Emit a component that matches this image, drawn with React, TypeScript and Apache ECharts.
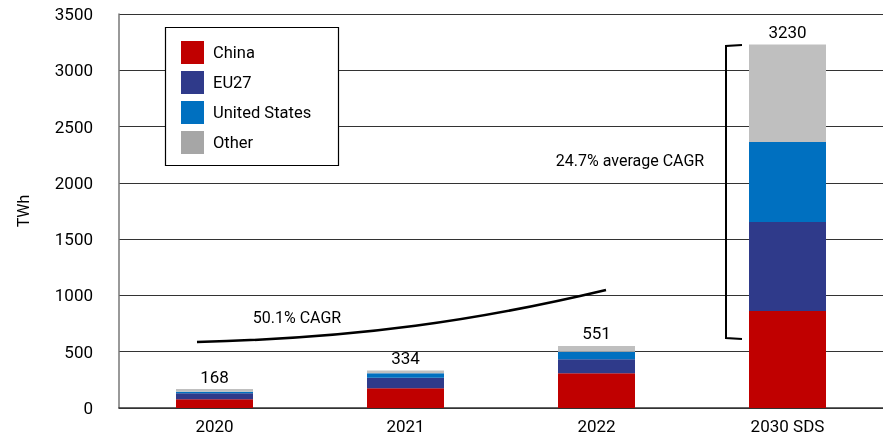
import React, { useEffect, useRef } from "react";
import * as echarts from "echarts";

const categories = ["2020", "2021", "2022", "2030 SDS"];
const china = [77, 175, 308, 862];
const eu27 = [53, 94, 125, 790];
const unitedStates = [15, 39, 67, 711];
const other = [23, 26, 51, 867];
const totals = [168, 334, 551, 3230];
const yTicks = { min: 0, max: 3500, interval: 500 };

const FONT = "Roboto";

export default function App() {
  const ref = useRef<HTMLDivElement>(null);
  useEffect(() => {
    document.body.style.margin = "0";
    const chart = echarts.init(ref.current!, null, { renderer: "svg" });
    const mk = (name: string, data: number[], color: string, extra: any = {}) => ({
      name,
      type: "bar",
      stack: "total",
      data,
      barWidth: 77,
      itemStyle: { color },
      emphasis: { disabled: true },
      ...extra,
    });
    chart.setOption({
      animation: false,
      textStyle: { fontFamily: FONT },
      grid: { left: 119, right: -5, top: 14, bottom: 29 },
      legend: {
        orient: "vertical",
        left: 181,
        top: 41,
        padding: 0,
        itemWidth: 23,
        itemHeight: 23,
        itemGap: 7,
        z: 20,
        icon: "rect",
        textStyle: { fontSize: 16.5, color: "#000", fontFamily: FONT, padding: [0, 0, 0, 4] },
        data: [
          { name: "China", itemStyle: { color: "#C00000" } },
          { name: "EU27", itemStyle: { color: "#2F3A8A" } },
          { name: "United States", itemStyle: { color: "#0070C0" } },
          { name: "Other", itemStyle: { color: "#A6A6A6" } },
        ],
      },
      xAxis: {
        type: "category",
        data: categories,
        axisLine: { lineStyle: { color: "#333", width: 1.5 } },
        axisTick: { show: false },
        axisLabel: { fontSize: 17, color: "#000", margin: 9, fontFamily: FONT },
      },
      yAxis: {
        type: "value",
        min: yTicks.min,
        max: yTicks.max,
        interval: yTicks.interval,
        name: "TWh",
        nameLocation: "middle",
        nameRotate: 90,
        nameGap: 88,
        nameTextStyle: { fontSize: 16, color: "#000", fontFamily: FONT },
        axisLine: { show: true, lineStyle: { color: "#777", width: 1.5 } },
        axisTick: { show: false },
        axisLabel: {
          fontSize: 17,
          color: "#000",
          margin: 26,
          fontFamily: FONT,
          formatter: (v: number) => String(v),
        },
        splitLine: { lineStyle: { color: "#333", width: 1 } },
      },
      graphic: [
        {
          type: "rect",
          z: 10,
          shape: { x: 165.5, y: 27.5, width: 173, height: 138 },
          style: { fill: "#fff", stroke: "#000", lineWidth: 1.2 },
        },
        {
          type: "bezierCurve",
          z: 10,
          shape: { x1: 197, y1: 342, cpx1: 360, cpy1: 338, cpx2: 480, cpy2: 320, x2: 606, y2: 290 },
          style: { stroke: "#000", lineWidth: 2.5, fill: null },
        },
        {
          type: "text",
          z: 10,
          x: 297,
          y: 317,
          style: { text: "50.1% CAGR", fontSize: 16, fill: "#000", fontFamily: FONT, align: "center", verticalAlign: "middle" },
        },
        {
          type: "polyline",
          z: 10,
          shape: { points: [[742, 45], [726, 46], [726, 338], [742, 339]] },
          style: { stroke: "#000", lineWidth: 2, fill: null },
        },
        {
          type: "text",
          z: 10,
          x: 630,
          y: 160,
          style: { text: "24.7% average CAGR", fontSize: 16, fill: "#000", fontFamily: FONT, align: "center", verticalAlign: "middle" },
        },
      ],
      series: [
        mk("China", china, "#C00000"),
        mk("EU27", eu27, "#2F3A8A"),
        mk("United States", unitedStates, "#0070C0"),
        mk("Other", other, "#BFBFBF", {
          label: {
            show: true,
            position: "top",
            distance: 4,
            fontSize: 17,
            color: "#000",
            fontFamily: FONT,
            formatter: (p: any) => String(totals[p.dataIndex]),
          },
        }),
      ],
    });
    return () => chart.dispose();
  }, []);
  return <div ref={ref} style={{ position: "fixed", left: 0, top: 0, width: 883, height: 437 }} />;
}
